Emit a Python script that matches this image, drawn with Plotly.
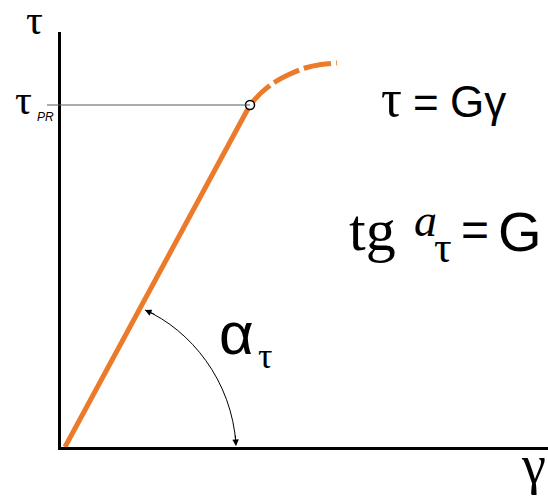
import plotly.graph_objects as go

# Shear stress - shear strain diagram (Hooke's law in shear)
gamma_elastic = [4, 189]          # linear (elastic) branch
tau_elastic = [0, 342]
gamma_plastic = [189, 201, 214, 229, 244, 260, 276]   # beyond proportional limit
tau_plastic = [342, 355, 365, 373, 379, 382.5, 384]
gamma_pr = 189                    # proportional limit point
tau_pr = 342

X_SPAN = 487
Y_SPAN = 415
ORANGE = "#EB7B2A"
SERIF = "Liberation Serif"
SANS = "Liberation Sans"

fig = go.Figure()

fig.add_trace(go.Scatter(
    x=gamma_elastic, y=tau_elastic, mode="lines",
    line=dict(color=ORANGE, width=5), hoverinfo="skip"))

fig.add_trace(go.Scatter(
    x=gamma_plastic, y=tau_plastic, mode="lines",
    line=dict(color=ORANGE, width=5, dash="28px,5px", shape="spline", smoothing=1),
    hoverinfo="skip"))

fig.add_trace(go.Scatter(
    x=[gamma_pr], y=[tau_pr], mode="markers",
    marker=dict(size=9, color="white", line=dict(color="black", width=1.5)),
    hoverinfo="skip", cliponaxis=False))

# horizontal guide at the proportional limit
fig.add_shape(type="line", xref="paper", yref="y",
              x0=-14 / X_SPAN, x1=gamma_pr / X_SPAN, y0=tau_pr, y1=tau_pr,
              line=dict(color="#5a5a5a", width=1))

# angle arc between the elastic line and the strain axis
fig.add_shape(type="path", xref="x", yref="y",
              path="M 84,137 C 129,117 171,67 175,2",
              line=dict(color="black", width=1))

# arrowheads at both ends of the arc
for tip, tail in [((84, 137), (95, 132)), ((175, 1), (174.3, 13))]:
    fig.add_annotation(x=tip[0], y=tip[1], ax=tail[0], ay=tail[1],
                       xref="x", yref="y", axref="x", ayref="y", text="",
                       showarrow=True, arrowhead=2, arrowsize=1.3, arrowwidth=1,
                       arrowcolor="black")


def label(x, y, text, family, size, xanchor="center"):
    """Place a text label; x, y are in plot units (may lie outside the axes)."""
    fig.add_annotation(x=x / X_SPAN, y=y / Y_SPAN, xref="paper", yref="paper",
                       text=text, showarrow=False, xanchor=xanchor, yanchor="middle",
                       font=dict(family=family, size=size, color="black"))


# axis labels
label(-27, 427, "τ", SERIF, 42)
label(472, -18, "γ", SERIF, 54)
label(-38, 347, "τ", SERIF, 42)
label(-16, 330, "<i>PR</i>", SANS, 12)

# τ = Gγ
label(330, 349, "τ", SERIF, 52)
label(364.5, 344.5, "=", SANS, 44)
label(387, 345.5, "Gγ", SANS, 44, xanchor="left")

# tg α_τ = G
label(286, 217, "tg", SERIF, 60, xanchor="left")
label(364, 226.6, "<i>a</i>", SERIF, 46)
label(382, 200, "τ", SERIF, 44)
label(414, 217, "=", SANS, 48)
label(434.5, 216, "G", SANS, 56, xanchor="left")

# angle label
label(175.5, 114, "α", SANS, 60)
label(203.5, 91.5, "τ", SERIF, 36)

fig.update_xaxes(range=[0, X_SPAN], showline=True, linecolor="black", linewidth=3,
                 showgrid=False, zeroline=False, showticklabels=False, ticks="")
fig.update_yaxes(range=[0, Y_SPAN], showline=True, linecolor="black", linewidth=3,
                 showgrid=False, zeroline=False, showticklabels=False, ticks="")

fig.update_layout(
    width=548, height=497,
    margin=dict(l=61, r=0, t=32, b=50),
    paper_bgcolor="white", plot_bgcolor="white",
    showlegend=False,
)

fig.write_html("out.html")
